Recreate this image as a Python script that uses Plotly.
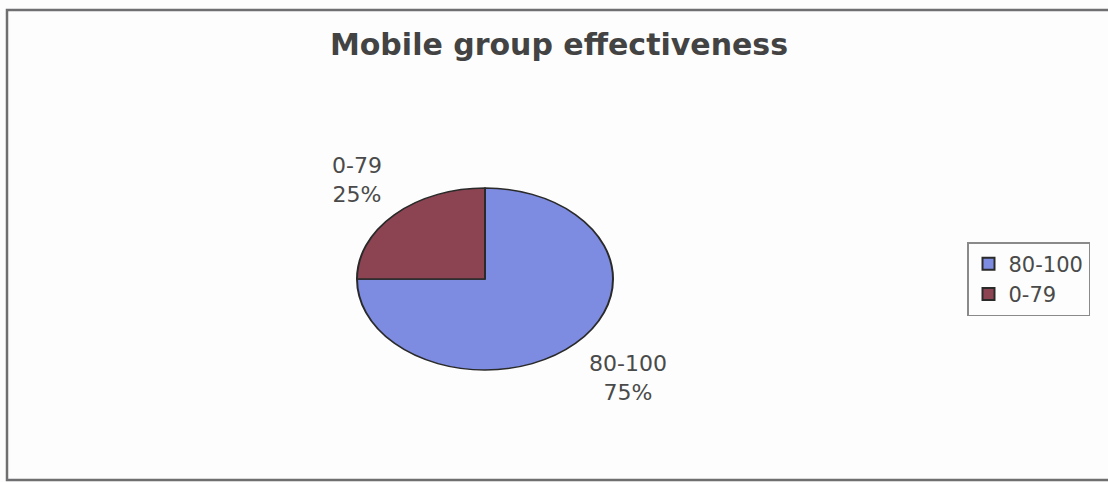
import plotly.graph_objects as go

labels = ["80-100", "0-79"]
values = [75, 25]
colors = ["#7d8ce0", "#8c4452"]
title_text = "Mobile group effectiveness"

W, H = 1108, 482
total = sum(values)
pct = [f"{round(v / total * 100)}%" for v in values]

fig = go.Figure()
fig.add_trace(go.Pie(
    labels=labels,
    values=values,
    sort=False,
    direction="clockwise",
    rotation=0,
    textinfo="none",
    hoverinfo="label+percent",
    marker=dict(colors=colors, line=dict(color="#2a2a2a", width=2)),
    domain=dict(x=[357 / W, 613 / W], y=[1 - 407 / H, 1 - 151 / H]),
    showlegend=True,
))

font_fam = "DejaVu Sans, Liberation Sans, Arial, sans-serif"
txt_col = "#4a4a4a"

# slice labels
label_pos = {"0-79": (357, 180), "80-100": (628, 378)}
annos = []
for lab, p in zip(labels, pct):
    px, py = label_pos[lab]
    annos.append(dict(
        x=px / W, y=1 - py / H, xref="paper", yref="paper",
        text=f"{lab}<br>{p}", showarrow=False,
        xanchor="center", yanchor="middle", align="center",
        font=dict(family=font_fam, size=22, color=txt_col),
    ))

fig.update_layout(
    width=W, height=H,
    margin=dict(l=0, r=0, t=0, b=0),
    paper_bgcolor="#fcfdfc",
    plot_bgcolor="#fcfdfc",
    title=dict(
        text=f"<b>{title_text}</b>",
        x=559 / W, xanchor="center",
        y=1 - 44 / H, yanchor="middle",
        font=dict(family="DejaVu Sans, Liberation Sans, Arial, sans-serif", size=30, color="#434343"),
    ),
    legend=dict(
        x=967 / W, xanchor="left",
        y=1 - 242 / H, yanchor="top",
        bordercolor="#8a8a8a", borderwidth=1.5,
        bgcolor="rgba(0,0,0,0)",
        font=dict(family=font_fam, size=21, color=txt_col),
        tracegroupgap=0,
    ),
    annotations=annos,
    shapes=[dict(
        type="rect", xref="paper", yref="paper",
        x0=7 / W, x1=1.02, y0=1 - 480 / H, y1=1 - 10 / H,
        line=dict(color="#6f6f72", width=2.5),
        fillcolor="rgba(0,0,0,0)",
    )],
)

post = """
var gd = document.getElementById('{plot_id}');
function squash(){
  var g = gd.querySelector('.pielayer');
  if(!g) return;
  g.removeAttribute('transform');
  var b = g.getBBox();
  var cy = b.y + b.height / 2;
  var k = 91 / 128;
  g.setAttribute('transform', 'translate(0,' + cy + ') scale(1,' + k + ') translate(0,' + (-cy) + ')');
}
squash();
gd.on('plotly_afterplot', squash);
"""

fig.write_html("out.html", post_script=post)
